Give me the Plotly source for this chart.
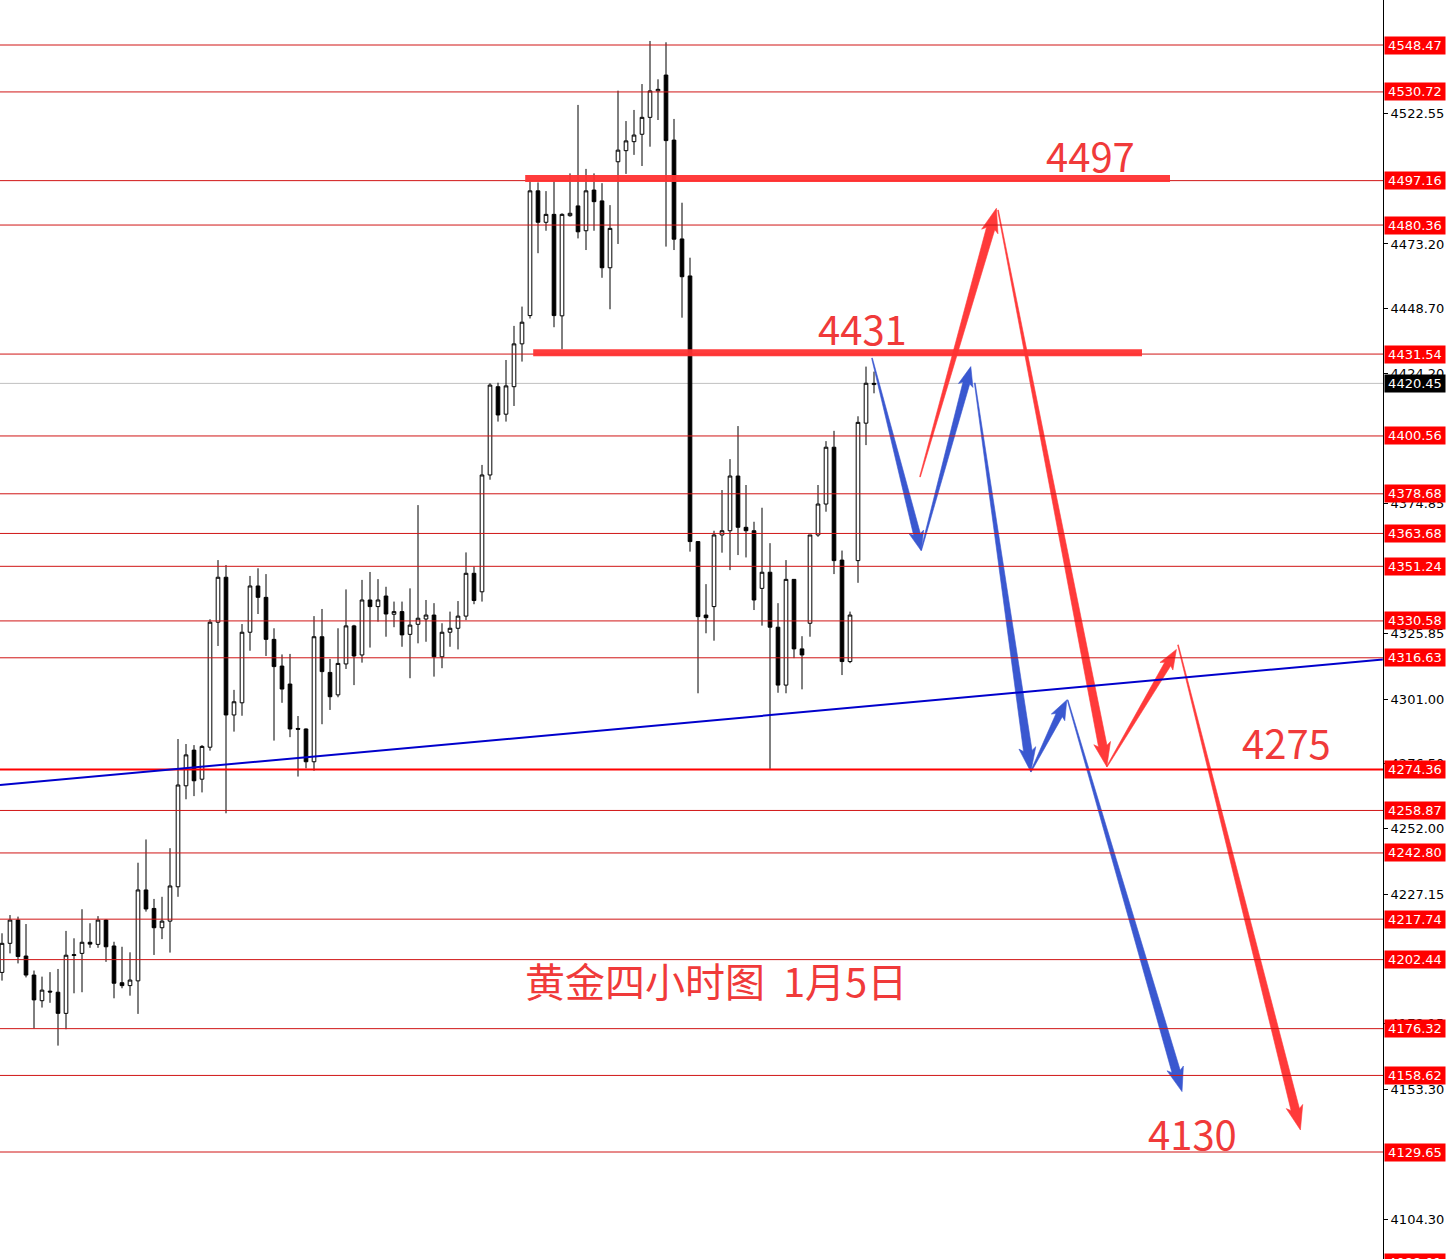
import plotly.graph_objects as go
import math

# ---------------- data ----------------
bar_index = list(range(110))
open_ = [4197.6, 4208.6, 4217.4, 4203.8, 4196.6, 4186.9, 4190.5, 4190.1, 4182.1, 4204.0,
         4204.8, 4209.0, 4208.2, 4217.4, 4207.6, 4193.7, 4192.6, 4194.4, 4228.8, 4221.8,
         4214.5, 4217.0, 4230.0, 4268.2, 4281.7, 4270.7, 4282.8, 4330.1, 4347.1, 4295.0,
         4299.6, 4326.3, 4343.8, 4339.5, 4323.6, 4313.5, 4306.7, 4289.9, 4289.7, 4277.3,
         4324.6, 4311.1, 4302.6, 4314.3, 4328.7, 4317.7, 4338.5, 4336.0, 4340.0, 4333.1,
         4334.1, 4325.5, 4329.3, 4331.3, 4332.8, 4317.0, 4326.3, 4327.8, 4332.4, 4348.6,
         4341.6, 4385.8, 4419.2, 4408.8, 4419.2, 4435.4, 4446.1, 4493.3, 4481.4, 4484.4,
         4446.0, 4483.9, 4487.6, 4478.2, 4493.6, 4489.5, 4464.2, 4504.3, 4508.5, 4511.9,
         4514.7, 4521.1, 4531.1, 4537.1, 4512.5, 4475.1, 4461.1, 4360.6, 4332.8, 4336.0,
         4363.1, 4364.7, 4385.4, 4366.0, 4364.7, 4342.9, 4349.0, 4328.2, 4306.3, 4346.3,
         4320.0, 4329.7, 4363.1, 4374.8, 4396.3, 4353.6, 4315.2, 4353.4, 4405.4, 4420.0]
high = [4212.4, 4219.3, 4218.7, 4215.9, 4198.3, 4196.0, 4197.7, 4198.9, 4213.3, 4210.5,
        4221.5, 4216.2, 4218.9, 4217.7, 4209.2, 4207.3, 4205.2, 4239.1, 4247.9, 4225.4,
        4226.2, 4244.6, 4285.9, 4284.0, 4283.6, 4283.6, 4331.2, 4353.6, 4351.7, 4304.5,
        4329.4, 4347.6, 4350.5, 4348.3, 4327.8, 4317.9, 4318.1, 4294.6, 4289.9, 4332.4,
        4335.1, 4316.2, 4327.8, 4342.5, 4329.1, 4346.1, 4349.1, 4346.4, 4343.5, 4337.9,
        4337.9, 4342.9, 4374.4, 4338.5, 4337.3, 4329.7, 4334.1, 4338.1, 4356.5, 4351.1,
        4389.6, 4420.5, 4420.7, 4429.3, 4442.2, 4449.5, 4496.8, 4496.5, 4493.2, 4497.0,
        4484.8, 4499.9, 4525.8, 4501.6, 4499.9, 4496.2, 4487.9, 4531.2, 4519.7, 4523.9,
        4533.7, 4550.0, 4535.5, 4549.5, 4520.5, 4488.8, 4468.0, 4360.6, 4344.5, 4364.7,
        4380.1, 4391.8, 4404.3, 4382.0, 4368.1, 4373.4, 4360.0, 4337.3, 4353.6, 4346.3,
        4324.8, 4363.1, 4382.0, 4398.6, 4402.5, 4357.2, 4334.1, 4408.0, 4426.8, 4424.9]
low = [4194.5, 4204.8, 4201.0, 4195.7, 4176.4, 4184.3, 4186.1, 4169.9, 4176.1, 4189.7,
       4190.1, 4206.9, 4206.9, 4201.6, 4187.8, 4191.6, 4188.8, 4181.9, 4220.6, 4204.2,
       4210.2, 4205.1, 4226.2, 4263.1, 4264.3, 4265.7, 4281.5, 4321.1, 4257.8, 4288.7,
       4294.7, 4319.3, 4333.2, 4317.3, 4285.3, 4299.6, 4286.6, 4271.7, 4274.8, 4273.9,
       4291.5, 4296.9, 4301.7, 4312.4, 4306.3, 4314.8, 4320.5, 4330.3, 4324.6, 4328.2,
       4320.8, 4308.9, 4322.1, 4322.7, 4309.5, 4312.7, 4320.8, 4319.8, 4330.9, 4336.9,
       4337.9, 4384.0, 4406.0, 4406.0, 4411.9, 4428.7, 4445.0, 4469.7, 4478.2, 4441.7,
       4433.3, 4483.5, 4475.3, 4470.9, 4478.2, 4460.4, 4448.5, 4473.2, 4499.7, 4506.9,
       4502.7, 4510.0, 4520.1, 4472.2, 4470.9, 4445.3, 4356.8, 4303.2, 4325.9, 4323.1,
       4356.4, 4349.8, 4355.5, 4354.6, 4334.7, 4328.8, 4274.6, 4303.4, 4303.2, 4316.5,
       4304.7, 4324.6, 4362.4, 4371.9, 4348.3, 4310.1, 4314.6, 4345.0, 4397.1, 4416.7]
close = [4208.6, 4217.4, 4203.6, 4196.6, 4187.2, 4190.9, 4190.2, 4182.1, 4204.1, 4204.3,
         4209.0, 4208.3, 4217.4, 4207.3, 4193.5, 4192.6, 4194.7, 4228.8, 4221.6, 4214.5,
         4217.0, 4230.3, 4268.5, 4279.9, 4270.1, 4283.1, 4330.1, 4347.1, 4295.0, 4300.0,
         4326.3, 4343.8, 4339.5, 4323.6, 4313.3, 4304.8, 4289.7, 4289.6, 4277.3, 4324.6,
         4311.4, 4301.9, 4314.5, 4328.7, 4317.3, 4338.5, 4336.0, 4338.5, 4333.2, 4334.1,
         4325.3, 4329.0, 4331.6, 4332.8, 4317.0, 4326.3, 4327.8, 4332.4, 4348.6, 4338.3,
         4385.8, 4419.8, 4408.5, 4419.5, 4435.4, 4443.6, 4493.3, 4481.4, 4484.4, 4446.1,
         4484.4, 4484.8, 4477.8, 4493.3, 4489.2, 4464.2, 4479.1, 4508.7, 4512.2, 4514.4,
         4521.1, 4531.1, 4531.7, 4512.3, 4475.0, 4460.8, 4360.6, 4332.2, 4331.8, 4363.1,
         4364.7, 4385.4, 4366.0, 4364.7, 4338.5, 4349.0, 4328.2, 4306.3, 4346.3, 4320.0,
         4317.7, 4363.1, 4374.8, 4396.3, 4353.4, 4315.2, 4332.8, 4405.7, 4420.5, 4420.45]

level_prices = [4548.47, 4530.72, 4497.16, 4480.36, 4431.54, 4400.56, 4378.68, 4363.68,
                4351.24, 4330.58, 4316.63, 4274.36, 4258.87, 4242.80, 4217.74, 4202.44,
                4176.32, 4158.62, 4129.65]
bottom_label_price = 4088.01
current_price = 4420.45
axis_ticks = [4522.55, 4473.20, 4448.70, 4424.20, 4374.85, 4325.85, 4301.00,
              4276.50, 4252.00, 4227.15, 4178.15, 4153.30, 4104.30]

key_levels = [4498.0, 4432.0]           # thick drawn resistance lines
key_level_spans = [(65.4, 146.0), (66.4, 142.5)]
trend_line = [(-0.25, 4268.5), (172.6, 4316.0)]

blue_arrows = [((108.75, 4430.0), (114.9, 4357.1)),
               ((114.9, 4357.4), (121.1, 4426.8)),
               ((121.6, 4420.6), (128.6, 4273.5)),
               ((128.6, 4273.5), (133.1, 4300.7)),
               ((133.2, 4300.7), (147.5, 4152.5))]
red_arrows = [((114.75, 4385.1), (124.3, 4486.7)),
              ((124.5, 4486.0), (138.1, 4275.4)),
              ((138.1, 4275.4), (146.8, 4319.8)),
              ((147.0, 4321.5), (162.3, 4138.0))]

text_labels = [("4497", 136.1, 4506.9), ("4431", 107.5, 4441.4),
               ("4275", 160.6, 4284.8), ("4130", 148.75, 4136.8),
               ("黄金四小时图\u00a0\u00a01月5日", 89.25, 4194.7)]

# ---------------- layout geometry ----------------
W, H = 1450, 1259
PLOT_W = 1383
XMIN, XMAX = -0.25, 172.625
YMIN, YMAX = 4089.17, 4565.50


def to_px(x, y):
    return ((x - XMIN) / (XMAX - XMIN) * PLOT_W, (YMAX - y) / (YMAX - YMIN) * H)


def to_data(px, py):
    return (XMIN + px / PLOT_W * (XMAX - XMIN), YMAX - py / H * (YMAX - YMIN))


def tapered_arrow(p0, p1, w0=0.4, w1=4.2, wh=8.5, hl=20.0):
    x0, y0 = to_px(*p0)
    x1, y1 = to_px(*p1)
    dx, dy = x1 - x0, y1 - y0
    L = math.hypot(dx, dy)
    ux, uy = dx / L, dy / L
    nx, ny = -uy, ux
    nkx, nky = x0 + ux * (L - hl), y0 + uy * (L - hl)
    bx, by = x0 + ux * (L - hl * 1.15), y0 + uy * (L - hl * 1.15)
    pts = [
        (x0 + nx * w0, y0 + ny * w0),
        (nkx + nx * w1, nky + ny * w1),
        (bx + nx * wh, by + ny * wh),
        (x1, y1),
        (bx - nx * wh, by - ny * wh),
        (nkx - nx * w1, nky - ny * w1),
        (x0 - nx * w0, y0 - ny * w0),
    ]
    d = [to_data(px, py) for px, py in pts]
    xs = [p[0] for p in d] + [d[0][0]]
    ys = [p[1] for p in d] + [d[0][1]]
    return xs, ys


fig = go.Figure()

fig.add_trace(go.Candlestick(
    x=bar_index, open=open_, high=high, low=low, close=close,
    increasing=dict(line=dict(color="black", width=1), fillcolor="white"),
    decreasing=dict(line=dict(color="black", width=1), fillcolor="black"),
    whiskerwidth=0, hoverinfo="skip", showlegend=False,
))

BLUE = "#3a58d0"
RED = "#ff3a3a"


def arrow_size(p0, p1):
    a, b = to_px(*p0), to_px(*p1)
    L = math.hypot(b[0] - a[0], b[1] - a[1])
    if L < 200:
        return dict(w1=3.5, wh=7.5, hl=17)
    return dict(w1=4.3, wh=8.5, hl=21)


for p0, p1 in blue_arrows:
    xs, ys = tapered_arrow(p0, p1, **arrow_size(p0, p1))
    fig.add_trace(go.Scatter(x=xs, y=ys, mode="lines", fill="toself", fillcolor=BLUE,
                             line=dict(width=0.6, color=BLUE), hoverinfo="skip", showlegend=False))
for p0, p1 in red_arrows:
    xs, ys = tapered_arrow(p0, p1, **arrow_size(p0, p1))
    fig.add_trace(go.Scatter(x=xs, y=ys, mode="lines", fill="toself", fillcolor=RED,
                             line=dict(width=0.6, color=RED), hoverinfo="skip", showlegend=False))

shapes = []
# thin horizontal level lines
for p in level_prices:
    if abs(p - 4274.36) < 0.01:
        shapes.append(dict(type="line", xref="paper", x0=0, x1=1, yref="y", y0=p, y1=p,
                           line=dict(color="#ff0000", width=2), layer="above"))
    else:
        shapes.append(dict(type="line", xref="paper", x0=0, x1=1, yref="y", y0=p, y1=p,
                           line=dict(color="#d01515", width=1), layer="above"))
# current price line
shapes.append(dict(type="line", xref="paper", x0=0, x1=1, yref="y", y0=current_price, y1=current_price,
                   line=dict(color="#c0c0c0", width=1), layer="below"))
# trend line
shapes.append(dict(type="line", xref="x", yref="y", x0=trend_line[0][0], y0=trend_line[0][1],
                   x1=trend_line[1][0], y1=trend_line[1][1],
                   line=dict(color="#0000cc", width=2), layer="above"))
# thick key levels
for lv, (a, b) in zip(key_levels, key_level_spans):
    shapes.append(dict(type="line", xref="x", yref="y", x0=a, x1=b, y0=lv, y1=lv,
                       line=dict(color="rgba(255,50,50,0.95)", width=7), layer="above"))

annotations = []
for txt, x, y in text_labels:
    annotations.append(dict(x=x, y=y, xref="x", yref="y", text=txt, showarrow=False,
                            font=dict(family="Noto Sans CJK SC", size=40, color="#f03a3a"),
                            xanchor="center", yanchor="middle"))
label_style = dict(showarrow=False, xanchor="left", yanchor="middle", xshift=1, width=58,
                   align="center", borderpad=1)
for p in level_prices:
    annotations.append(dict(x=1, y=p, xref="paper", yref="y", text=f"{p:.2f}",
                            bgcolor="#ff0000",
                            font=dict(family="DejaVu Sans", size=13, color="white"), **label_style))
# level just below the visible range: its label peeks in at the bottom edge
annotations.append(dict(x=1, y=(bottom_label_price - YMIN) / (YMAX - YMIN), xref="paper", yref="paper",
                        text=f"{bottom_label_price:.2f}", bgcolor="#ff0000",
                        font=dict(family="DejaVu Sans", size=13, color="white"), **label_style))
annotations.append(dict(x=1, y=current_price, xref="paper", yref="y", text=f"{current_price:.2f}",
                        bgcolor="#000000",
                        font=dict(family="DejaVu Sans", size=13, color="white"), **label_style))

fig.update_layout(
    width=W, height=H,
    margin=dict(l=0, r=W - PLOT_W, t=0, b=0, autoexpand=False),
    paper_bgcolor="white", plot_bgcolor="white",
    showlegend=False, hovermode=False, boxgap=0.35,
    shapes=shapes, annotations=annotations,
    xaxis=dict(range=[XMIN, XMAX], visible=False, rangeslider=dict(visible=False),
               fixedrange=True),
    yaxis=dict(range=[YMIN, YMAX], side="right", showgrid=False, zeroline=False,
               showline=True, linecolor="black", linewidth=1, mirror=False,
               ticks="outside", ticklen=4, tickcolor="black",
               tickvals=axis_ticks, ticktext=[f"{t:.2f}" for t in axis_ticks],
               tickfont=dict(family="DejaVu Sans", size=13, color="black"),
               automargin=False, fixedrange=True),
)

fig.write_html("out.html", config={"displayModeBar": False},
               post_script="document.body.style.margin='0px';document.body.style.overflow='hidden';")
